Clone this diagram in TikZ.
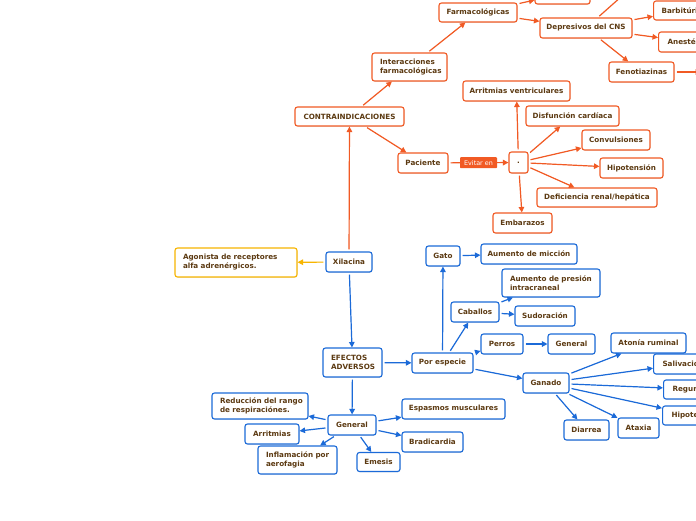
\documentclass[tikz,border=0pt]{standalone}
\usepackage{fontspec}
\setmainfont{DejaVu Sans}
\usetikzlibrary{arrows.meta,shadows}
\definecolor{orC}{HTML}{F15A24}
\definecolor{blC}{HTML}{1B6AD8}
\definecolor{yeC}{HTML}{F7B500}
\definecolor{txC}{HTML}{5C3A12}
\tikzset{
  boxbase/.style={rounded corners=2.5pt, line width=1.1pt, fill=white, text=txC,
    font=\bfseries\fontsize{7.2}{9}\selectfont, inner sep=0pt,
    drop shadow={shadow xshift=0.5pt, shadow yshift=-0.8pt, opacity=0.18}},
  ob/.style={boxbase, draw=orC},
  bb/.style={boxbase, draw=blC},
  yb/.style={boxbase, draw=yeC},
  sz/.style 2 args={minimum width=#1, minimum height=#2},
  ml/.style={align=left, text width=#1, inner xsep=8pt},
  conn/.style={line width=1.2pt, -{Triangle[length=5.5pt,width=5.5pt]}, shorten <=2pt},
  oe/.style={conn, draw=orC, fill=orC},
  be/.style={conn, draw=blC, fill=blC},
  ye/.style={conn, draw=yeC, fill=yeC},
  evit/.style={fill=orC, text=white, font=\fontsize{6.4}{7}\selectfont, inner sep=0pt,
    minimum width=37pt, minimum height=11pt, rounded corners=0.8pt}
}
\begin{document}
\begin{tikzpicture}[x=1pt,y=-1pt]
\useasboundingbox (0,0) rectangle (696,520);
\fill[white] (0,0) rectangle (696,520);
\clip (0,0) rectangle (696,520);

% orange branch
\node[ob, sz={109pt}{19pt}] (contra) at (349.5,116.5) {CONTRAINDICACIONES};
\node[ob, ml=59pt, minimum height=28pt] (inter) at (409.5,67) {\mbox{Interacciones}\\\mbox{farmacológicas}};
\node[ob, sz={78pt}{19pt}] (farm) at (478,12.5) {Farmacológicas};
\node[ob, sz={55pt}{20pt}] (topbox) at (562.5,-6) {};
\node[ob, sz={92pt}{20pt}] (dep) at (586,28) {Depresivos del CNS};
\node[ob, anchor=west, minimum height=19pt, inner xsep=8pt] (barb) at (653,10.5) {Barbitúricos};
\node[ob, anchor=west, minimum height=20pt, inner xsep=9pt] (anest) at (658,42) {Anestésicos};
\node[ob, sz={65pt}{20pt}] (feno) at (641.5,72) {Fenotiazinas};
\coordinate (depup) at (640,-20);
\coordinate (fenoout) at (701,72);
\node[ob, sz={50pt}{20pt}] (pac) at (423,163) {Paciente};
\node[ob, sz={19pt}{21pt}] (dot) at (518.5,162.5) {.};
\node[ob, sz={107pt}{20pt}] (arrv) at (516.5,91) {Arritmias ventriculares};
\node[ob, sz={93pt}{20pt}] (disf) at (572.5,116) {Disfunción cardíaca};
\node[ob, sz={68pt}{20pt}] (conv) at (616,140) {Convulsiones};
\node[ob, sz={63pt}{20pt}] (hipoa) at (631.5,168) {Hipotensión};
\node[ob, sz={120pt}{19pt}] (defi) at (597,197.5) {Deficiencia renal/hepática};
\node[ob, sz={59pt}{20pt}] (emb) at (522.5,223) {Embarazos};

% center
\node[yb, ml=106pt, minimum height=29pt] (agon) at (236,262.5) {\mbox{Agonista de receptores}\\\mbox{alfa adrenérgicos.}};
\node[bb, sz={46pt}{20pt}] (xil) at (349,262) {Xilacina};

% blue branch
\node[bb, ml=43pt, minimum height=29pt] (efec) at (352.5,362.5) {\mbox{EFECTOS}\\\mbox{ADVERSOS}};
\node[bb, sz={61pt}{20pt}] (pore) at (442.5,363) {Por especie};
\node[bb, sz={34pt}{20pt}] (gato) at (443,256) {Gato};
\node[bb, sz={96pt}{20pt}] (mic) at (529,254) {Aumento de micción};
\node[bb, ml=82pt, minimum height=28pt] (pres) at (551,283) {\mbox{Aumento de presión}\\\mbox{intracraneal}};
\node[bb, sz={48pt}{20pt}] (cab) at (475,312) {Caballos};
\node[bb, sz={60pt}{20pt}] (sud) at (545,316) {Sudoración};
\node[bb, sz={42pt}{20pt}] (perr) at (502,344) {Perros};
\node[bb, sz={47pt}{20pt}] (genp) at (571.5,344) {General};
\node[bb, sz={75pt}{20pt}] (aton) at (648.5,343) {Atonía ruminal};
\node[bb, anchor=west, minimum height=20pt, inner xsep=9pt] (sal) at (653,364) {Salivación};
\node[bb, sz={46pt}{20pt}] (gan) at (546,383) {Ganado};
\node[bb, anchor=west, minimum height=19pt, inner xsep=9pt] (reg) at (663,389.5) {Regurgitación};
\node[bb, anchor=west, minimum height=19pt, inner xsep=9pt] (hipob) at (662,415.5) {Hipotensión};
\node[bb, sz={45pt}{20pt}] (diar) at (586.5,430) {Diarrea};
\node[bb, sz={41pt}{20pt}] (atax) at (638.5,428) {Ataxia};
\node[bb, sz={48pt}{20pt}] (gen) at (352,425) {General};
\node[bb, ml=80pt, minimum height=26pt] (redu) at (260,406) {\mbox{Reducción del rango}\\\mbox{de respiraciónes.}};
\node[bb, sz={54pt}{20pt}] (arrm) at (272,434) {Arritmias};
\node[bb, ml=63pt, minimum height=28pt] (infl) at (297.5,460) {\mbox{Inflamación por}\\\mbox{aerofagia}};
\node[bb, sz={43pt}{19pt}] (emes) at (378.5,462) {Emesis};
\node[bb, sz={103pt}{20pt}] (espa) at (453.5,409) {Espasmos musculares};
\node[bb, sz={61pt}{20pt}] (brad) at (432.5,442) {Bradicardia};

% orange connectors
\draw[oe] (xil) -- (contra);
\draw[oe] (contra) -- (inter);
\draw[oe] (inter) -- (farm);
\draw[oe] (farm) -- (topbox);
\draw[oe] (farm) -- (dep);
\draw[oe] (dep) -- (depup);
\draw[oe] (dep) -- (barb);
\draw[oe] (dep) -- (anest);
\draw[oe] (dep) -- (feno);
\draw[oe] (feno) -- (fenoout);
\draw[oe] (contra) -- (pac);
\draw[oe] (pac) -- node[evit] {Evitar en} (dot);
\draw[oe] (dot) -- (arrv);
\draw[oe] (dot) -- (disf);
\draw[oe] (dot) -- (conv);
\draw[oe] (dot) -- (hipoa);
\draw[oe] (dot) -- (defi);
\draw[oe] (dot) -- (emb);

% yellow
\draw[ye] (xil) -- (agon);

% blue connectors
\draw[be] (xil) -- (efec);
\draw[be] (efec) -- (pore);
\draw[be] (efec) -- (gen);
\draw[be] (pore) -- (gato);
\draw[be] (pore) -- (cab);
\draw[be] (pore) -- (perr);
\draw[be] (pore) -- (gan);
\draw[be] (gato) -- (mic);
\draw[be] (cab) -- (pres);
\draw[be] (cab) -- (sud);
\draw[be] (perr) -- (genp);
\draw[be] (gan) -- (aton);
\draw[be] (gan) -- (sal);
\draw[be] (gan) -- (reg);
\draw[be] (gan) -- (hipob);
\draw[be] (gan) -- (atax);
\draw[be] (gan) -- (diar);
\draw[be] (gen) -- (redu);
\draw[be] (gen) -- (arrm);
\draw[be] (gen) -- (infl);
\draw[be] (gen) -- (emes);
\draw[be] (gen) -- (espa);
\draw[be] (gen) -- (brad);
\end{tikzpicture}
\end{document}
